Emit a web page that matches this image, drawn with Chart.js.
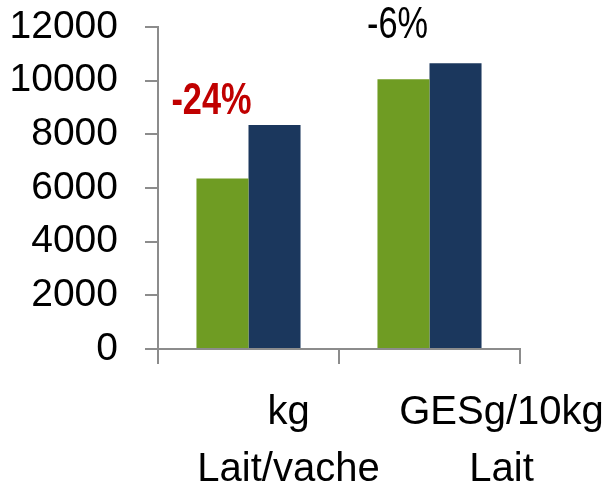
<!DOCTYPE html>
<html>
<head>
<meta charset="utf-8">
<script src="https://cdn.jsdelivr.net/npm/chart.js@4/dist/chart.umd.min.js"></script>
<style>
  html, body { margin: 0; padding: 0; background: #fff; }
  #wrap { width: 611px; height: 492px; }
</style>
</head>
<body>
<div id="wrap"><canvas id="barChart" width="611" height="492"></canvas></div>
<script>
// Data
const categories = [['kg', 'Lait/vache'], ['GESg/10kg', 'Lait']];
const seriesA = [6350, 10050];   // green
const seriesB = [8350, 10650];   // navy
const changeLabels = ['-24%', '-6%'];
const yTicks = [0, 2000, 4000, 6000, 8000, 10000, 12000];

const axisGray = '#8c8c8c';
const fontFamily = '"Liberation Sans", Arial, sans-serif';

// draws the % labels above each group and the shifted category labels
const textPlugin = {
    id: 'texts',
    afterDraw(chart) {
        const ctx = chart.ctx;
        const x = chart.scales.x;
        const y = chart.scales.y;
        ctx.save();
        ctx.textAlign = 'center';
        ctx.textBaseline = 'middle';

        // change labels (condensed look)
        const changeStyle = [
            { color: '#c00000', weight: 'bold', dx: -37, dy: -23 },
            { color: '#000000', weight: 'normal', dx: -32, dy: -37 }
        ];
        changeLabels.forEach((txt, i) => {
            const s = changeStyle[i];
            const top = y.getPixelForValue(Math.max(seriesA[i], seriesB[i]));
            const cx = x.getPixelForValue(i) + s.dx;
            ctx.save();
            ctx.translate(cx, top + s.dy);
            ctx.scale(0.78, 1);
            ctx.font = s.weight + ' 44px ' + fontFamily;
            ctx.fillStyle = s.color;
            ctx.fillText(txt, 0, 0);
            ctx.restore();
        });

        // category labels
        const labelShift = [40, 72];
        ctx.font = '40px ' + fontFamily;
        ctx.fillStyle = '#000';
        categories.forEach((lines, i) => {
            const cx = x.getPixelForValue(i) + labelShift[i];
            lines.forEach((line, j) => {
                ctx.fillText(line, cx, chart.chartArea.bottom + 64 + j * 57);
            });
        });
        ctx.restore();
    }
};

const chartConfig = {
    type: 'bar',
    data: {
        labels: categories,
        datasets: [{
            label: 'A',
            data: seriesA,
            backgroundColor: '#6f9c23',
            borderWidth: 0
        }, {
            label: 'B',
            data: seriesB,
            backgroundColor: '#1b375d',
            borderWidth: 0
        }]
    },
    options: {
        responsive: false,
        animation: false,
        layout: { padding: { left: 0, right: 91, top: 27, bottom: 0 } },
        datasets: {
            bar: { categoryPercentage: 0.575, barPercentage: 1 }
        },
        plugins: {
            legend: { display: false },
            tooltip: { enabled: false }
        },
        scales: {
            x: {
                afterFit: scale => {
                    scale.height = 143;
                    scale.paddingLeft = 0;
                    scale.paddingRight = 0;
                },
                border: { color: axisGray, width: 2 },
                grid: {
                    offset: true,
                    drawOnChartArea: false,
                    color: axisGray,
                    lineWidth: 2,
                    tickLength: 15
                },
                ticks: { display: false }
            },
            y: {
                min: 0,
                max: 12000,
                afterFit: scale => {
                    scale.width = 158;
                    scale.paddingTop = 0;
                    scale.paddingBottom = 0;
                },
                afterBuildTicks: scale => { scale.ticks = yTicks.map(v => ({ value: v })); },
                border: { color: axisGray, width: 2 },
                grid: {
                    drawOnChartArea: false,
                    color: axisGray,
                    lineWidth: 2,
                    tickLength: 13
                },
                ticks: {
                    color: '#000',
                    padding: 27,
                    autoSkip: false,
                    callback: v => String(v),
                    font: { family: fontFamily, size: 39 }
                }
            }
        }
    },
    plugins: [textPlugin]
};

const barChart = new Chart(document.getElementById('barChart'), chartConfig);
</script>
</body>
</html>
